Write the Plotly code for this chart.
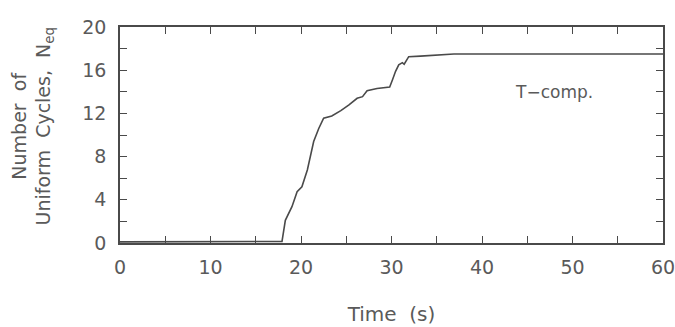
import plotly.graph_objects as go

time_s = [0, 5, 10, 15, 17.9, 18.27, 18.64, 19.0, 19.57, 20.1, 20.7, 21.2, 21.4, 21.96,
          22.5, 23.4, 24.4, 25.3, 26.2, 26.8, 27.3, 28.4, 29.8, 30.1, 30.45, 30.8, 31.2,
          31.4, 31.8, 31.9, 33.2, 35.1, 36.9, 60]
n_eq = [0.1, 0.1, 0.12, 0.15, 0.15, 2.1, 2.75, 3.36, 4.75, 5.2, 6.76, 8.9, 9.4, 10.6,
        11.55, 11.76, 12.25, 12.78, 13.4, 13.55, 14.1, 14.3, 14.45, 15.1, 15.9, 16.5, 16.7,
        16.55, 17.1, 17.25, 17.3, 17.42, 17.5, 17.5]

x_ticks = [0, 10, 20, 30, 40, 50, 60]
y_ticks = [0, 4, 8, 12, 16, 20]

FONT = "DejaVu Sans"
TXT = "#5a5a5a"
LINE = "#4a4a4a"

fig = go.Figure()
fig.add_trace(go.Scatter(x=time_s, y=n_eq, mode="lines",
                         line=dict(color=LINE, width=1.6), showlegend=False))

axis_common = dict(showgrid=False, zeroline=False, showline=True, linecolor=LINE,
                   linewidth=1.6, mirror="allticks", ticks="inside", ticklen=7,
                   tickcolor=LINE, tickwidth=1.4, automargin=False,
                   ticklabeloverflow="allow",
                   tickfont=dict(family=FONT, size=19, color=TXT))

fig.update_xaxes(range=[0, 60], tickvals=x_ticks, ticktext=[str(v) for v in x_ticks],
                 minor=dict(dtick=5, tick0=0, ticks="inside", ticklen=7,
                            tickcolor=LINE, tickwidth=1.4),
                 ticklabelstandoff=6,
                 title=dict(text="Time  (s)", font=dict(family=FONT, size=20, color=TXT),
                            standoff=30),
                 **axis_common)
fig.update_yaxes(range=[0, 20], tickvals=y_ticks, ticktext=[str(v) for v in y_ticks],
                 minor=dict(dtick=2, tick0=0, ticks="inside", ticklen=7,
                            tickcolor=LINE, tickwidth=1.4),
                 ticklabelstandoff=8,
                 **axis_common)

fig.add_annotation(text="Number  of<br>Uniform  Cycles,  N<sub>eq</sub>",
                   xref="paper", yref="paper", x=-0.16, y=0.54,
                   xanchor="center", yanchor="middle", textangle=-90,
                   showarrow=False, align="center",
                   font=dict(family=FONT, size=19, color=TXT))
fig.add_annotation(text="T\u2212comp.", xref="x", yref="y", x=48, y=14.0,
                   showarrow=False, font=dict(family=FONT, size=17, color=TXT))

fig.update_layout(width=675, height=327, margin=dict(l=120, r=12, t=27, b=84),
                  paper_bgcolor="white", plot_bgcolor="white")

fig.write_html("out.html")
